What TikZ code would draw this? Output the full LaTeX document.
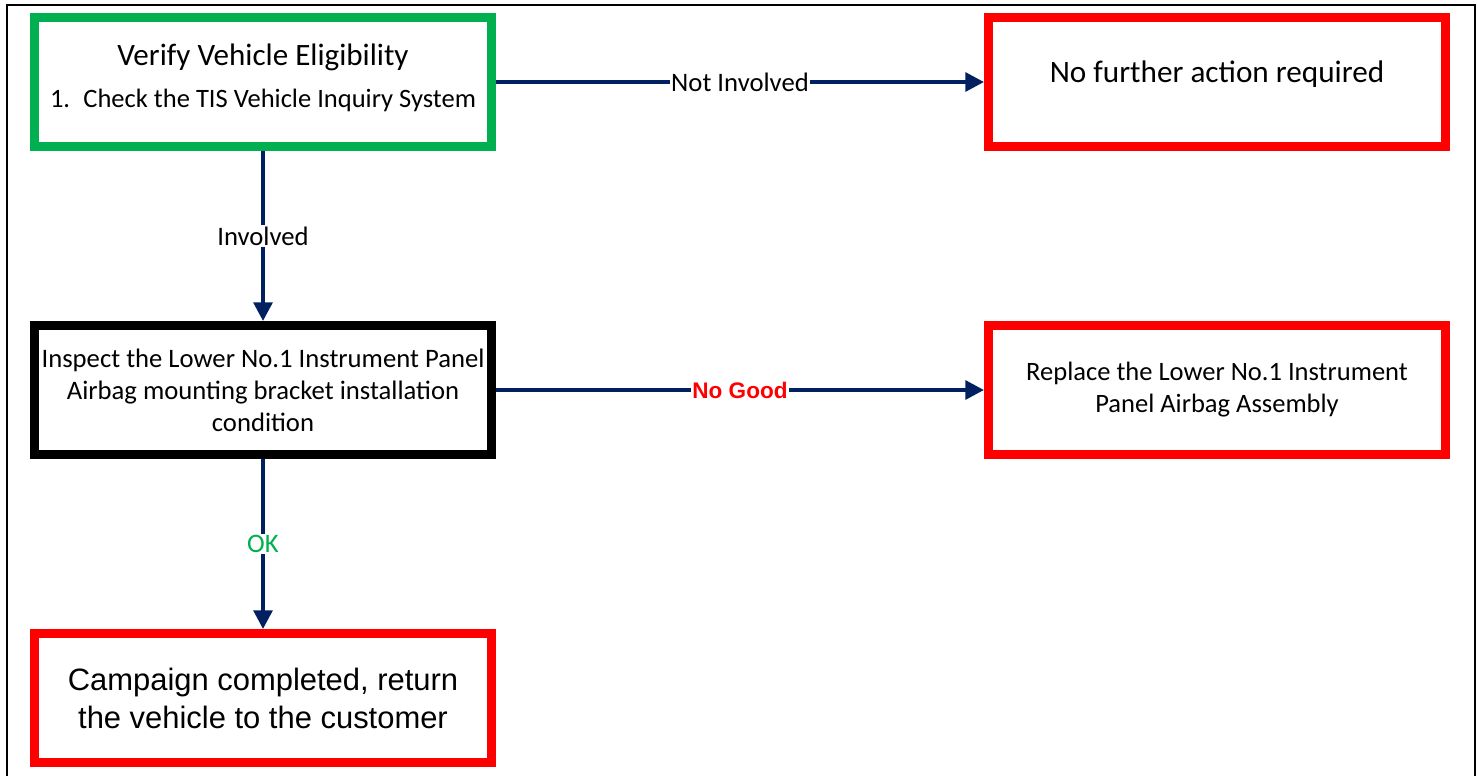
\documentclass[tikz,border=0pt]{standalone}
\usepackage{fontspec}
\setmainfont{Carlito}
\newfontfamily\arialfont{Liberation Sans}
\usepackage{xcolor}
\usepackage{tikz}
\usetikzlibrary{positioning,arrows.meta}
\definecolor{okgreen}{HTML}{00B050}
\definecolor{stopred}{HTML}{FF0000}
\definecolor{arrnavy}{HTML}{002060}
\tikzset{
  box/.style   = {draw, fill=white, align=center, line width=6.75pt,
                  minimum width=342.75pt, minimum height=96.75pt, inner sep=2pt},
  start/.style = {box, draw=okgreen},
  check/.style = {box, draw=black, font=\fontsize{20}{24}\selectfont},
  stop/.style  = {box, draw=stopred},
  arr/.style   = {-{Triangle[length=14pt,width=14pt]}, line width=3pt, draw=arrnavy},
  lab/.style   = {fill=white, inner sep=1pt, midway, font=\fontsize{20}{23}\selectfont},
  frame/.style = {line width=1.9pt, draw=black},
}
\begin{document}
\begin{tikzpicture}[node distance=127.5pt and 366pt]
  \useasboundingbox (0,0) rectangle (1108.5pt,-582pt);
  \draw[frame] (5.25pt,-582pt) |- (1106.25pt,-3.75pt) -- (1106.25pt,-582pt);

  \node[start, text height=37.5pt, text depth=0pt, font=\fontsize{23.3}{31.5}\selectfont]
        (verify) at (197.25pt,-61.5pt)
        {Verify Vehicle Eligibility\\
         \fontsize{19.9}{31.5}\selectfont 1.\hspace{0.5em}Check the TIS Vehicle Inquiry System};
  \node[stop, right=of verify, text height=0pt, text depth=0pt,
        font=\fontsize{23.4}{27}\selectfont] (nofurther) {No further action required};

  \node[check, below=of verify] (inspect)
        {Inspect the Lower No.1 Instrument Panel\\Airbag mounting bracket installation\\condition};
  \node[stop, right=of inspect, font=\fontsize{19.9}{24}\selectfont] (replace)
        {Replace the Lower No.1 Instrument\\Panel Airbag Assembly};

  \node[stop, below=of inspect, font=\arialfont\fontsize{23.2}{28.5}\selectfont] (done)
        {Campaign completed, return\\the vehicle to the customer};

  \draw[arr] (verify) -- node[lab]{Not Involved} (nofurther);
  \draw[arr] (verify) -- node[lab]{Involved} (inspect);
  \draw[arr] (inspect) -- node[lab, text=stopred, font=\arialfont\bfseries\fontsize{16.9}{20}\selectfont]{No Good} (replace);
  \draw[arr] (inspect) -- node[lab, text=okgreen]{OK} (done);
\end{tikzpicture}
\end{document}
